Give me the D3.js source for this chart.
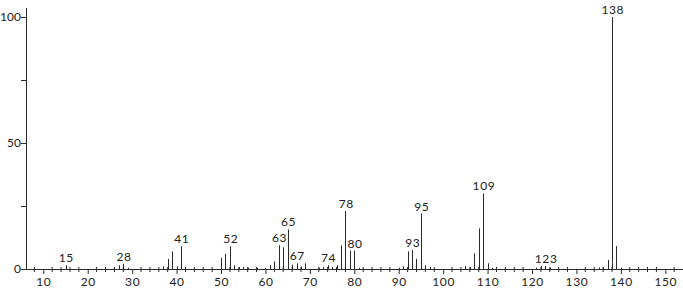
<!DOCTYPE html>
<html>
<head>
<meta charset="utf-8">
<script src="https://cdnjs.cloudflare.com/ajax/libs/d3/7.8.5/d3.min.js"></script>
<style>
  body { margin: 0; background: #fff; }
  text { font-family: Lato, "DejaVu Sans", sans-serif; fill: #222; letter-spacing: 0.6px; }
</style>
</head>
<body>
<svg id="chart" width="683" height="291"></svg>
<script>
// m/z values and relative intensities
const mz = [15, 26, 27, 28, 29, 37, 38, 39, 40, 41, 42,
            50, 51, 52, 53, 54, 55, 56, 58, 60, 61, 62, 63, 64, 65, 66, 67, 68, 69,
            72, 73, 74, 75, 76, 77, 78, 79, 80, 81,
            90, 91, 92, 93, 94, 95, 96, 97,
            105, 106, 107, 108, 109, 110, 111,
            121, 122, 123, 124, 135, 136, 137, 138, 139, 140];
const intensity = [1.5, 0.8, 1.5, 2, 0.5, 1, 4, 7, 1, 9, 0.5,
                   4.5, 6, 9, 1.5, 0.8, 0.8, 0.5, 0.5, 0.5, 1.5, 3, 9.4, 8.6, 15.7, 1.7, 2.3, 1, 2.3,
                   0.5, 0.8, 1.5, 0.8, 1.5, 9.4, 23, 7.3, 7.3, 0.5,
                   0.5, 1, 7, 7.5, 4, 22, 1.5, 0.8,
                   1.2, 0.8, 6.2, 16.1, 30, 2.3, 0.5,
                   0.5, 1.2, 1.2, 0.5, 0.6, 0.8, 3.6, 100, 9.1, 0.5];
// peaks that carry a label
const labeled = [15, 28, 41, 52, 63, 65, 67, 74, 78, 80, 93, 95, 109, 123, 138];
const xTicks = [10, 20, 30, 40, 50, 60, 70, 80, 90, 100, 110, 120, 130, 140, 150];
const yTicks = [0, 25, 50, 75, 100];
const yLabels = [0, 50, 100];

const peaks = mz.map((m, i) => ({ mz: m, value: intensity[i] }));

const svg = d3.select("#chart");
const ink = "#2a2a2a";

const x = d3.scaleLinear().domain([10, 150]).range([43.3, 665.3]);
const y = d3.scaleLinear().domain([0, 100]).range([269, 17]);
const x0 = 26, x1 = 683, yTop = 8;

// minor ticks every 2 units, crossing the axis
const minor = d3.range(8, 154, 2).filter(v => v % 10 !== 0);
svg.append("g").selectAll("line")
  .data(minor).enter().append("line")
  .attr("x1", d => x(d)).attr("x2", d => x(d))
  .attr("y1", y(0) - 2).attr("y2", y(0) + 3)
  .attr("stroke", ink).attr("stroke-width", 1);

// x axis
const xAxis = svg.append("g")
  .attr("transform", `translate(0,${y(0)})`)
  .call(d3.axisBottom(x).tickValues(xTicks).tickSize(5).tickSizeOuter(0));
xAxis.select(".domain").attr("d", `M${x0},0.5H${x1}`).attr("stroke", ink);
xAxis.selectAll(".tick line").attr("stroke", ink);
xAxis.selectAll(".tick text").attr("y", 8).style("font-size", "12px");

// y axis
const yAxis = svg.append("g")
  .attr("transform", `translate(${x0},0)`)
  .call(d3.axisLeft(y).tickValues(yTicks).tickSize(5).tickSizeOuter(0)
    .tickFormat(d => yLabels.includes(d) ? d : ""));
yAxis.select(".domain").attr("d", `M0.5,${y(0)}V${yTop}`).attr("stroke", ink);
yAxis.selectAll(".tick line").attr("stroke", ink);
yAxis.selectAll(".tick text").attr("x", -5).style("font-size", "12px")
  .style("letter-spacing", "0px");

// peaks
svg.append("g").selectAll("line")
  .data(peaks).enter().append("line")
  .attr("x1", d => Math.round(x(d.mz)) + 0.5).attr("x2", d => Math.round(x(d.mz)) + 0.5)
  .attr("y1", y(0)).attr("y2", d => y(d.value))
  .attr("stroke", ink).attr("stroke-width", 1);

// peak labels
svg.append("g").selectAll("text")
  .data(peaks.filter(d => labeled.includes(d.mz))).enter().append("text")
  .attr("x", d => x(d.mz) + 0.8)
  .attr("y", d => y(d.value) - 3)
  .attr("text-anchor", "middle")
  .style("font-size", "12px")
  .text(d => d.mz);
</script>
</body>
</html>
